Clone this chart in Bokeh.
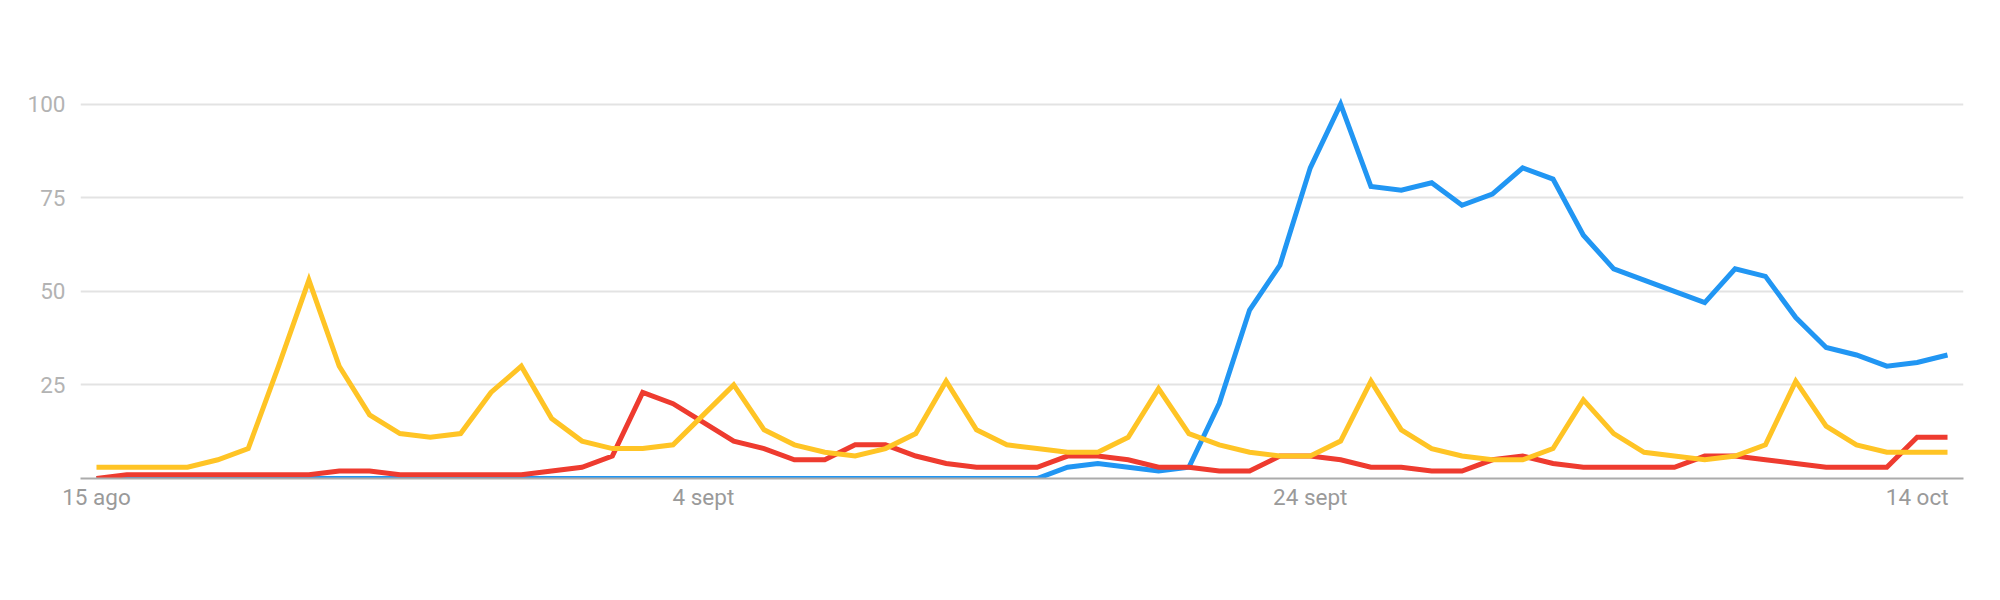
from bokeh.plotting import figure
from bokeh.models import ColumnDataSource, FixedTicker, Range1d
from bokeh.embed import file_html
from bokeh.resources import INLINE
import pandas as pd

# 62 daily points: 15 Aug .. 15 Oct
dates = [d.strftime("%Y-%m-%d") for d in pd.date_range("2019-08-15", "2019-10-15", freq="D")]
days = list(range(len(dates)))

blue = [0, 0, 0, 0, 0, 0, 0, 0, 0, 0,
        0, 0, 0, 0, 0, 0, 0, 0, 0, 0,
        0, 0, 0, 0, 0, 0, 0, 0, 0, 0,
        0, 0, 3, 4, 3, 2, 3, 20, 45, 57,
        83, 100, 78, 77, 79, 73, 76, 83, 80, 65,
        56, 53, 50, 47, 56, 54, 43, 35, 33, 30,
        31, 33]

red = [0, 1, 1, 1, 1, 1, 1, 1, 2, 2,
       1, 1, 1, 1, 1, 2, 3, 6, 23, 20,
       15, 10, 8, 5, 5, 9, 9, 6, 4, 3,
       3, 3, 6, 6, 5, 3, 3, 2, 2, 6,
       6, 5, 3, 3, 2, 2, 5, 6, 4, 3,
       3, 3, 3, 6, 6, 5, 4, 3, 3, 3,
       11, 11]

yellow = [3, 3, 3, 3, 5, 8, 30, 53, 30, 17,
          12, 11, 12, 23, 30, 16, 10, 8, 8, 9,
          17, 25, 13, 9, 7, 6, 8, 12, 26, 13,
          9, 8, 7, 7, 11, 24, 12, 9, 7, 6,
          6, 10, 26, 13, 8, 6, 5, 5, 8, 21,
          12, 7, 6, 5, 6, 9, 26, 14, 9, 7,
          7, 7]

tick_days = [0, 20, 40, 60]
tick_labels = ["15 ago", "4 sept", "24 sept", "14 oct"]
y_ticks = [25, 50, 75, 100]

source = ColumnDataSource(data=dict(day=days, date=dates, blue=blue, red=red, yellow=yellow))

p = figure(width=1984, height=584, output_backend="svg", toolbar_location=None,
           x_range=Range1d(-0.527, 61.527), y_range=Range1d(0, 105),
           min_border_left=80, min_border_right=21, min_border_top=85,
           min_border_bottom=106)
p.outline_line_color = None
p.background_fill_color = "white"
p.border_fill_color = "white"

# axes
p.xaxis.ticker = FixedTicker(ticks=tick_days)
p.xaxis.major_label_overrides = {d: lab for d, lab in zip(tick_days, tick_labels)}
p.xaxis.major_tick_line_color = None
p.xaxis.minor_tick_line_color = None
p.xaxis.major_tick_out = 0
p.xaxis.major_tick_in = 0
p.xaxis.axis_line_color = "#ababab"
p.xaxis.axis_line_width = 2
p.xaxis.major_label_text_font = "Roboto"
p.xaxis.major_label_text_font_size = "22.5px"
p.xaxis.major_label_text_color = "#9a9a9a"
p.xaxis.major_label_standoff = 5

p.yaxis.ticker = FixedTicker(ticks=y_ticks)
p.yaxis.major_tick_line_color = None
p.yaxis.minor_tick_line_color = None
p.yaxis.major_tick_out = 0
p.yaxis.major_tick_in = 0
p.yaxis.axis_line_color = None
p.yaxis.major_label_text_font = "Roboto"
p.yaxis.major_label_text_font_size = "22.5px"
p.yaxis.major_label_text_color = "#b3b3b3"
p.yaxis.major_label_standoff = 15

p.xgrid.grid_line_color = None
p.ygrid.grid_line_color = "#e3e3e3"
p.ygrid.grid_line_width = 2

p.line("day", "blue", source=source, line_color="#2196F3", line_width=5, line_join="miter")
p.line("day", "red", source=source, line_color="#EE3B2F", line_width=5, line_join="miter")
p.line("day", "yellow", source=source, line_color="#FFC425", line_width=5, line_join="miter")

open("out.html", "w").write(file_html(p, INLINE))
